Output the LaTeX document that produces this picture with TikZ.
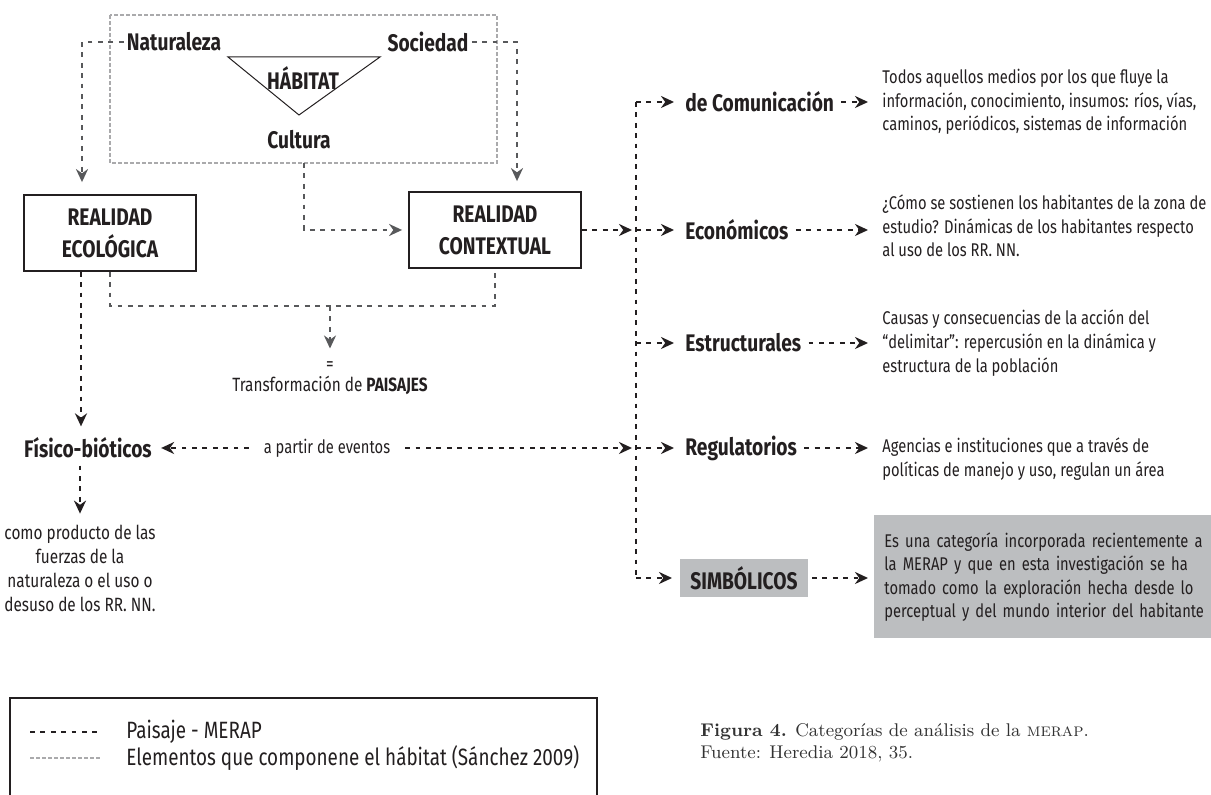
\documentclass[tikz,border=0pt]{standalone}
\usepackage{fontspec}
\newfontfamily\din{Fira Sans}[FakeStretch=0.8]
\usetikzlibrary{arrows.meta, calc}
\definecolor{ink}{RGB}{35,31,32}
\definecolor{linegray}{RGB}{88,89,91}
\definecolor{habgray}{RGB}{170,170,172}
\definecolor{boxgray}{RGB}{188,190,192}
\definecolor{capgray}{RGB}{50,50,50}

\begin{document}
\begin{tikzpicture}[x=0.5pt, y=-0.5pt, >={Stealth[length=6.5pt, width=6pt]}]
            \tikzset{
                cat/.style={font=\din\bfseries\fontsize{12}{14}\selectfont, text=ink, inner sep=1.5pt},
                desc/.style={font=\din\fontsize{9.2}{11.8}\selectfont, text=ink, align=left, anchor=west, inner sep=0pt},
                realidad/.style={draw=ink, line width=0.9pt, font=\din\bfseries\fontsize{12}{16}\selectfont, text=ink, align=center, minimum width=86pt, minimum height=38pt},
                paisaje/.style={draw=ink, line width=1.15pt, dash pattern=on 2.4pt off 2.8pt},
                paisajegray/.style={paisaje, draw=linegray},
                habitat/.style={draw=habgray, line width=0.6pt, dash pattern=on 1.8pt off 1.2pt},
                legend/.style={font=\din\fontsize{11.8}{14}\selectfont, text=ink, anchor=west, inner sep=0pt}
            };
            \useasboundingbox (0,0) rectangle (1211,795);
            % habitat
            \draw[habitat] (110,15) rectangle (497,163);
            \draw[ink, line width=0.5pt] (228,57) -- (380,57) -- (299,115) -- cycle;
            \node[cat] (nat) at (174,42) {Naturaleza};
            \node[cat] (soc) at (428,42) {Sociedad};
            \node[cat] (hab) at (303,78) {HÁBITAT};
            \node[cat] (cul) at (299,140) {Cultura};
            \coordinate (hb) at (304,163);
            % realidades
            \node[realidad] (eco) at (110,233) {REALIDAD\\ECOLÓGICA};
            \node[realidad] (ctx) at (495,230) {REALIDAD\\CONTEXTUAL};
            \draw[paisajegray, ->, shorten >=6pt] (nat.west) -| ([xshift=-14pt]eco.north);
            \draw[paisajegray, ->, shorten >=5pt] (soc.east) -| ([xshift=11pt]ctx.north);
            \draw[paisajegray, ->, shorten >=3pt] (hb) |- (ctx.west);
            % paisajes
            \coordinate (br) at (330,306);
            \node[font=\din\fontsize{9.5}{11}\selectfont, text=ink] (eq) at (330,366) {=};
            \node[font=\din\fontsize{9.6}{12}\selectfont, text=ink] (trans) at (330,385) {Transformación de \textbf{PAISAJES}};
            \draw[paisajegray] (eco.south) |- (br) -| (ctx.south);
            \draw[paisajegray, ->, shorten >=3pt] (br) -- (eq.north);
            % fisico-bioticos
            \node[cat] (fis) at (88,448) {Físico-bióticos};
            \node[font=\din\fontsize{9.6}{12}\selectfont, text=ink, align=center] (prod) at (80,568) {como producto de las\\fuerzas de la\\naturaleza o el uso o\\desuso de los RR. NN.};
            \node[font=\din\fontsize{9.2}{11}\selectfont, text=ink] (ev) at (327,448) {a partir de eventos};
            \draw[paisaje, ->, shorten >=4pt] ([xshift=-14.5pt]eco.south) -- ([xshift=-3.5pt]fis.north);
            \draw[paisaje, ->, shorten <=2pt, shorten >=2pt] ([xshift=-4pt]fis.south) -- (prod.north);
            \draw[paisaje, ->, shorten <=4pt, shorten >=3pt] (ev.west) -- (fis.east);
            % categorias
            \coordinate (top) at (636,102);
            \node[cat, anchor=west] (com) at (682,102) {de Comunicación};
            \node[cat, anchor=west] (ecn) at (682,230) {Económicos};
            \node[cat, anchor=west] (est) at (682,343) {Estructurales};
            \node[cat, anchor=west] (reg) at (682,448) {Regulatorios};
            \node[cat, anchor=west, fill=boxgray, minimum height=19pt, inner xsep=5pt] (sim) at (680,578) {SIMBÓLICOS};
            \draw[paisaje] (com.west -| top) -- (sim.west -| top);
            \draw[paisaje, ->, shorten >=2pt] (ctx.east) -- (ecn.west -| top);
            \draw[paisaje, ->, shorten <=4pt, shorten >=2pt] (ev.east) -- (reg.west -| top);
            \foreach \c in {com, ecn, est, reg, sim}
                \draw[paisaje, ->, shorten >=4pt] (\c.west -| top) -- (\c.west);
            % descripciones
            \node[desc] (dcom) at (882,102) {Todos aquellos medios por los que fluye la\\información, conocimiento, insumos: ríos, vías,\\caminos, periódicos, sistemas de información};
            \node[desc] (decn) at (882,226) {¿Cómo se sostienen los habitantes de la zona de\\estudio? Dinámicas de los habitantes respecto\\al uso de los RR. NN.};
            \node[desc] (dest) at (882,343) {Causas y consecuencias de la acción del\\“delimitar”: repercusión en la dinámica y\\estructura de la población};
            \node[desc] (dreg) at (882,459) {Agencias e instituciones que a través de\\políticas de manejo y uso, regulan un área};
            \node[desc, fill=boxgray, inner xsep=5pt, text width=162pt, minimum height=61.5pt] (dsim) at (874,577) {Es una categoría incorporada recientemente a\\la MERAP y que en esta investigación se ha\\tomado como la exploración hecha desde lo\\perceptual y del mundo interior del habitante};
            \draw[paisaje, ->, shorten <=2pt, shorten >=7pt] (com.east) -- (dcom.west |- com.east);
            \draw[paisaje, ->, shorten <=2pt, shorten >=7pt] (ecn.east) -- (decn.west |- ecn.east);
            \draw[paisaje, ->, shorten <=2pt, shorten >=7pt] (est.east) -- (dest.west |- est.east);
            \draw[paisaje, ->, shorten <=2pt, shorten >=7pt] (reg.east) -- (dreg.west |- reg.east);
            \draw[paisaje, ->, shorten <=2pt, shorten >=3pt] (sim.east) -- (dsim.west |- sim.east);
            % leyenda
            \draw[ink, line width=0.9pt] (10,800) -- (10,698) -- (597,698) -- (597,800);
            \coordinate (l1a) at (30,732);
            \coordinate (l1b) at (101,732);
            \coordinate (l2a) at (30,758);
            \coordinate (l2b) at (101,758);
            \draw[paisaje] (l1a) -- (l1b);
            \draw[habitat] (l2a) -- (l2b);
            \node[legend] (leg1) at (126,732) {Paisaje - MERAP};
            \node[legend] (leg2) at (126,758) {Elementos que componene el hábitat (Sánchez 2009)};
            % figura
            \node[anchor=west, font=\fontsize{9.2}{11}\selectfont, text=capgray, align=left, inner sep=0pt] (cap) at (700,743) {\textbf{Figura 4.} Categorías de análisis de la \textsc{merap}.\\Fuente: Heredia 2018, 35.};
        \end{tikzpicture}
\end{document}
